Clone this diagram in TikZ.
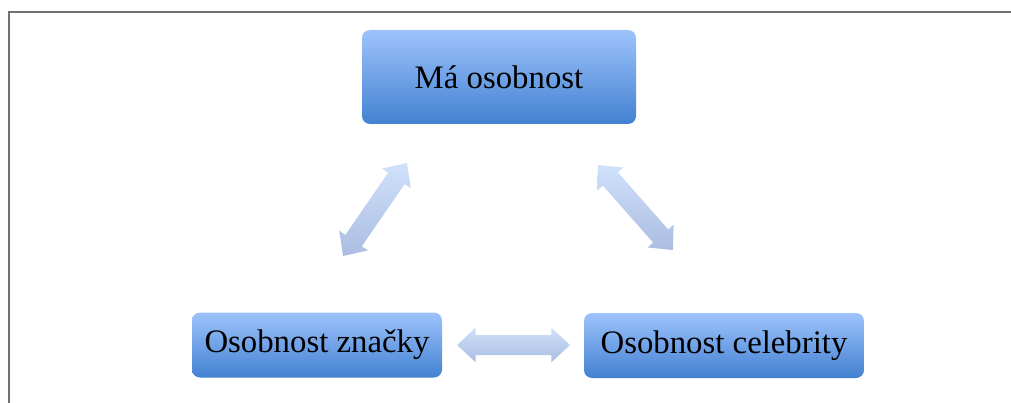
\documentclass[tikz,border=0pt]{standalone}
\usepackage{fontspec}
\setmainfont{Liberation Serif}
\usetikzlibrary{calc}

\definecolor{boxtop}{HTML}{9DC3FC}
\definecolor{boxbot}{HTML}{4381D1}
\definecolor{arrtop}{HTML}{D0E1FB}
\definecolor{arrbot}{HTML}{ABBDE1}
\definecolor{framegray}{HTML}{707070}

% arrow geometry: head length, head half-width, shaft half-width
\newcommand\arrHL{14pt}
\newcommand\arrHW{13pt}
\newcommand\arrSW{7.5pt}

% block double arrow between two named coordinates
\newcommand\blockarrow[2]{%
  \coordinate (#1-#2-p) at ($(#1)!\arrHL!(#2)$);
  \coordinate (#1-#2-q) at ($(#2)!\arrHL!(#1)$);
  \path[arrowfill] (#1)
    -- ($(#1-#2-p)!\arrHW!90:(#2)$)
    -- ($(#1-#2-p)!\arrSW!90:(#2)$)
    -- ($(#1-#2-q)!\arrSW!-90:(#1)$)
    -- ($(#1-#2-q)!\arrHW!-90:(#1)$)
    -- (#2)
    -- ($(#1-#2-q)!\arrHW!90:(#1)$)
    -- ($(#1-#2-q)!\arrSW!90:(#1)$)
    -- ($(#1-#2-p)!\arrSW!-90:(#2)$)
    -- ($(#1-#2-p)!\arrHW!-90:(#2)$)
    -- cycle;}

\tikzset{
  blockbox/.style={rectangle, rounded corners=6pt, top color=boxtop,
    bottom color=boxbot, draw=none, font=\fontsize{24.6}{28}\selectfont,
    inner sep=0pt, minimum height=48.75pt},
  arrowfill/.style={top color=arrtop, bottom color=arrbot, draw=none},
  framestyle/.style={draw=framegray, line width=1.5pt}
}

\begin{document}
\begin{tikzpicture}[x=0.75pt, y=-0.75pt]
  \useasboundingbox (0,0) rectangle (1011,403);

  % outer frame (top and left edges)
  \draw[framestyle] (1012,12) -- (9,12) -- (9,404);

  % blocks
  \node[blockbox, minimum width=205.5pt, minimum height=70.5pt] (ma) at (499,77) {Má osobnost};
  \node[blockbox, minimum width=187.5pt] (znacka) at (317,345) {Osobnost značky};
  \node[blockbox, minimum width=210pt] (celeb) at (724,345.5) {Osobnost celebrity};

  % arrow end points
  \coordinate (l1) at (407,163);
  \coordinate (l2) at (343,256);
  \coordinate (r1) at (598,165);
  \coordinate (r2) at (673,250);
  \coordinate (h1) at (457,345);
  \coordinate (h2) at (570,345);

  % double arrows between the blocks
  \blockarrow{l1}{l2}
  \blockarrow{r1}{r2}
  \blockarrow{h1}{h2}
\end{tikzpicture}
\end{document}
